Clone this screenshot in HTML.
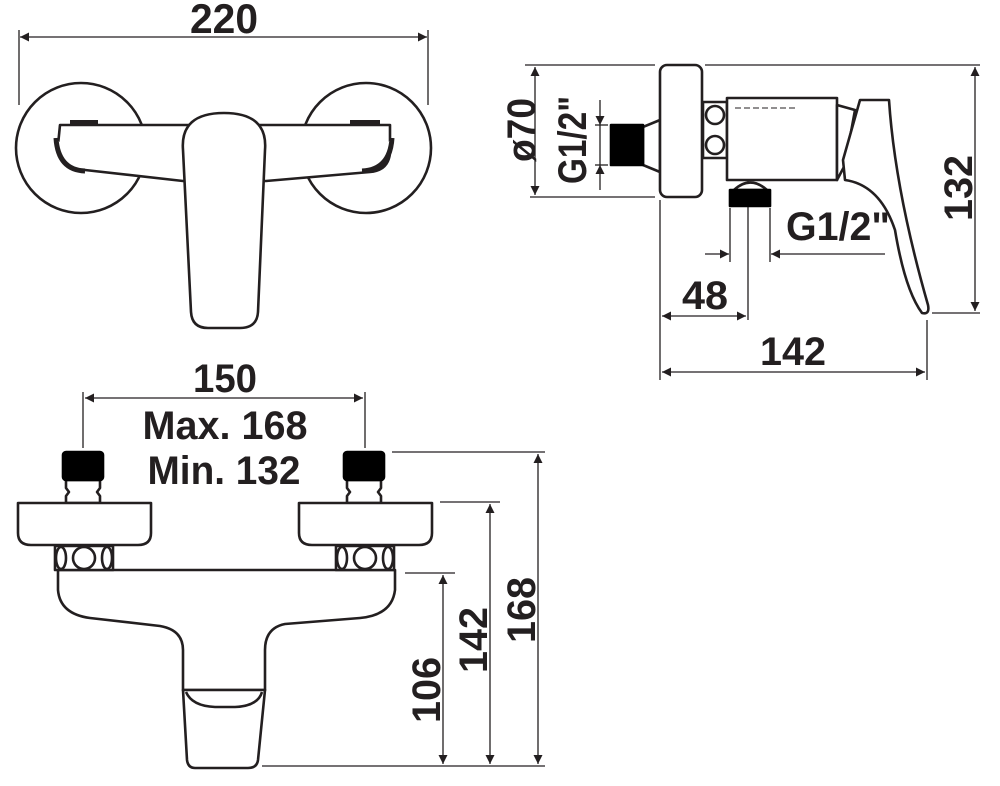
<!DOCTYPE html>
<html><head><meta charset="utf-8"><style>
html,body{margin:0;padding:0;background:#fff}
svg{display:block}
text{font-family:"Liberation Sans",sans-serif;font-weight:bold;fill:#231f20}
</style></head><body>
<svg width="1000" height="786" viewBox="0 0 1000 786" xmlns="http://www.w3.org/2000/svg">
<defs>
<marker id="a" viewBox="0 0 10 10" refX="10" refY="5" markerWidth="14" markerHeight="9" markerUnits="userSpaceOnUse" orient="auto-start-reverse"><path d="M0,0 L10,5 L0,10 z" fill="#231f20"/></marker>
</defs>
<g stroke="#231f20" fill="none" stroke-width="1.3">
<!-- top view dims -->
<line x1="19" y1="30" x2="19" y2="105"/><line x1="428" y1="30" x2="428" y2="105"/>
<line x1="20" y1="37" x2="427" y2="37" marker-start="url(#a)" marker-end="url(#a)"/>
</g>
<g stroke="#231f20" fill="#fff" stroke-width="2.6" stroke-linejoin="round">
<circle cx="81" cy="148" r="65"/><circle cx="366" cy="148" r="65"/>
<path d="M60,125 L390,125 L390,145 Q392,170 370,172 L266,181 L183,181 L85,170 Q60,168 58,145 Z"/>
<path d="M70,123 L98,123 M350,123 L380,123" stroke-width="6"/>
<path d="M56,138 Q58,170 85,171 M392,138 Q390,170 362,171" stroke-width="5"/>
<path d="M183,150 Q180,113 224,113 Q268,113 265,150 L258,312 Q257,328 240,328 L208,328 Q192,328 191,312 Z"/>
</g>
<text x="224" y="33" font-size="42" text-anchor="middle" textLength="68" lengthAdjust="spacingAndGlyphs">220</text>

<!-- side view -->
<g stroke="#231f20" fill="none" stroke-width="1.3">
<line x1="525" y1="65" x2="655" y2="65"/><line x1="530" y1="197" x2="655" y2="197"/>
<line x1="535" y1="67" x2="535" y2="195" marker-start="url(#a)" marker-end="url(#a)"/>
<line x1="595" y1="125" x2="608" y2="125"/><line x1="595" y1="165" x2="608" y2="165"/>
<line x1="600" y1="100" x2="600" y2="125" marker-end="url(#a)"/>
<line x1="600" y1="190" x2="600" y2="165" marker-end="url(#a)"/>
<line x1="600" y1="125" x2="600" y2="165"/>
<line x1="705" y1="65" x2="980" y2="65"/><line x1="932" y1="313" x2="980" y2="313"/>
<line x1="975" y1="67" x2="975" y2="311" marker-start="url(#a)" marker-end="url(#a)"/>
<line x1="660" y1="200" x2="660" y2="380"/><line x1="927" y1="320" x2="927" y2="380"/>
<line x1="662" y1="372" x2="925" y2="372" marker-start="url(#a)" marker-end="url(#a)"/>
<line x1="730" y1="208" x2="730" y2="262"/><line x1="770" y1="208" x2="770" y2="262"/>
<line x1="748" y1="163" x2="748" y2="320"/>
<line x1="705" y1="254" x2="729" y2="254" marker-end="url(#a)"/>
<line x1="885" y1="254" x2="771" y2="254" marker-end="url(#a)"/>
<line x1="662" y1="316" x2="746" y2="316" marker-start="url(#a)" marker-end="url(#a)"/>
</g>
<g stroke="#231f20" fill="#fff" stroke-width="2.6" stroke-linejoin="round">
<path d="M643,127 L660,120 L660,172 L643,165 Z"/>
<rect x="611" y="125" width="32" height="40" fill="#000" stroke="#000"/>
<rect x="660" y="65" width="42" height="132" rx="7"/>
<rect x="703" y="102" width="24" height="56"/>
<circle cx="715" cy="115" r="9"/><circle cx="715" cy="145" r="9"/>
<rect x="727" y="98" width="110" height="82"/>
<path d="M837,105 L855,110 L845,165 L837,180 Z"/>
<path d="M860,100 L889,100 Q895,190 928,305 Q930,315 922,313 Q905,290 895,230 Q880,185 845,180 L843,160 Z"/>
<path d="M734,190 Q750,175 767,190 Z"/>
<rect x="730" y="190" width="40" height="16" fill="#000" stroke="#000"/>
</g>
<line x1="735" y1="108" x2="795" y2="108" stroke="#231f20" stroke-width="1" stroke-dasharray="6,3"/>
<text transform="translate(535,130) rotate(-90)" x="0" y="0" font-size="40" text-anchor="middle" textLength="64" lengthAdjust="spacingAndGlyphs" dy="0">ø70</text>
<text transform="translate(586,140) rotate(-90)" font-size="40" text-anchor="middle" textLength="88" lengthAdjust="spacingAndGlyphs">G1/2"</text>
<text x="838" y="240" font-size="40" text-anchor="middle" textLength="104" lengthAdjust="spacingAndGlyphs">G1/2"</text>
<text x="705" y="309" font-size="40" text-anchor="middle" textLength="46" lengthAdjust="spacingAndGlyphs">48</text>
<text x="793" y="365" font-size="40" text-anchor="middle" textLength="66" lengthAdjust="spacingAndGlyphs">142</text>
<text transform="translate(972,188) rotate(-90)" font-size="40" text-anchor="middle" textLength="66" lengthAdjust="spacingAndGlyphs">132</text>

<!-- front view -->
<g stroke="#231f20" fill="none" stroke-width="1.3">
<line x1="83" y1="392" x2="83" y2="448"/><line x1="365" y1="392" x2="365" y2="448"/>
<line x1="85" y1="398" x2="363" y2="398" marker-start="url(#a)" marker-end="url(#a)"/>
<line x1="392" y1="452" x2="545" y2="452"/><line x1="440" y1="502" x2="500" y2="502"/>
<line x1="405" y1="573" x2="455" y2="573"/><line x1="262" y1="766" x2="545" y2="766"/>
<line x1="443" y1="575" x2="443" y2="764" marker-start="url(#a)" marker-end="url(#a)"/>
<line x1="490" y1="504" x2="490" y2="764" marker-start="url(#a)" marker-end="url(#a)"/>
<line x1="538" y1="454" x2="538" y2="764" marker-start="url(#a)" marker-end="url(#a)"/>
</g>
<g stroke="#231f20" fill="#fff" stroke-width="2.6" stroke-linejoin="round">
<path d="M58,570 L395,570 L395,590 Q392,615 360,618 L285,624 Q265,628 265,650 L265,690 L183,690 L183,650 Q183,630 160,626 L90,618 Q60,614 58,590 Z"/>
<path d="M183,690 L265,690 L258,760 Q257,768 248,768 L195,768 Q188,768 187,760 Z"/>
<path d="M186,692 Q192,706 215,707 L235,707 Q258,706 262,692" />
<g id="conn">
<path d="M66,480 L100,480 L100,488 L97,492 L100,496 L100,503 L66,503 L66,496 L69,492 L66,488 Z"/>
<rect x="63" y="452" width="40" height="28" rx="3" fill="#000" stroke="#000"/>
<path d="M18,503 L151,503 L151,533 Q151,545 138,545 L31,545 Q18,545 18,533 Z"/>
<rect x="55" y="546" width="58" height="24"/>
<ellipse cx="61" cy="558" rx="5" ry="11"/><circle cx="84" cy="558" r="11"/><ellipse cx="107" cy="558" rx="5" ry="11"/>
</g>
<use href="#conn" transform="translate(281,0)"/>
</g>
<text x="225" y="392" font-size="40" text-anchor="middle" textLength="64" lengthAdjust="spacingAndGlyphs">150</text>
<text x="225" y="439" font-size="40" text-anchor="middle" textLength="165" lengthAdjust="spacingAndGlyphs">Max. 168</text>
<text x="224" y="484" font-size="40" text-anchor="middle" textLength="153" lengthAdjust="spacingAndGlyphs">Min. 132</text>
<text transform="translate(440,690) rotate(-90)" font-size="40" text-anchor="middle" textLength="66" lengthAdjust="spacingAndGlyphs">106</text>
<text transform="translate(487,640) rotate(-90)" font-size="40" text-anchor="middle" textLength="66" lengthAdjust="spacingAndGlyphs">142</text>
<text transform="translate(535,610) rotate(-90)" font-size="40" text-anchor="middle" textLength="66" lengthAdjust="spacingAndGlyphs">168</text>
</svg>
</body></html>
